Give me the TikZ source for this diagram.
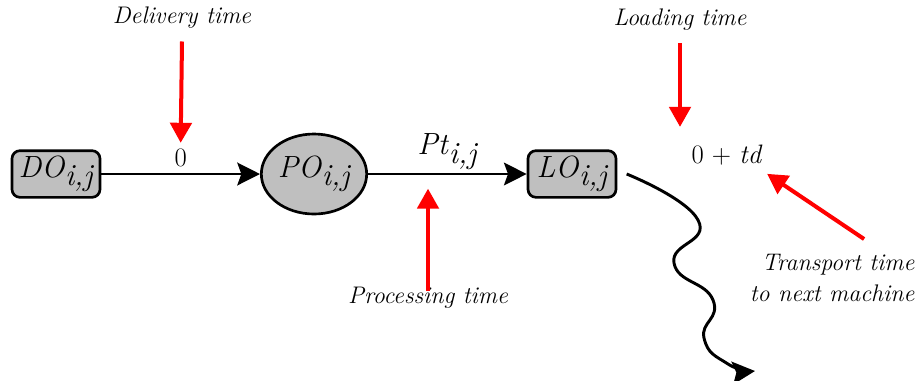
\documentclass[tikz,border=0pt]{standalone}
\usetikzlibrary{arrows.meta,shapes.geometric}

\newcommand{\opij}[1]{\textit{#1}$_{\textit{i,j}}$}

\begin{document}
\begin{tikzpicture}[x=0.75pt,y=-0.75pt,>={Stealth[length=17pt,width=17pt,inset=3pt]},
                    node distance=193.5pt,
                    box node/.style={rectangle,rounded corners=6pt,draw,line width=2pt,fill=black!25,
                                     minimum width=66pt,minimum height=35pt,inner sep=0pt,
                                     font=\fontsize{23}{28}\selectfont},
                    job node/.style={ellipse,draw,line width=2pt,fill=black!25,
                                     minimum width=79pt,minimum height=60pt,inner sep=0pt,
                                     font=\fontsize{23}{28}\selectfont},
                    note/.style={font=\fontsize{18}{23}\selectfont\itshape},
                    red arrow/.style={-{Triangle[length=15pt,width=16pt]},red,line width=3pt}]
  \useasboundingbox (0,0) rectangle (920,380);
  \node[box node] (DO) at (56,174) {\opij{DO}};
  \node[job node] (PO) [right of=DO] {\opij{PO}};
  \node[box node] (LO) [right of=PO] {\opij{LO}};
  \draw[->,line width=2.2pt] (DO) -- node[above=1pt,font=\fontsize{20}{24}\selectfont] (zero) {0} (PO);
  \draw[->,line width=2.2pt] (PO) -- node[above=-1pt,font=\fontsize{23}{28}\selectfont] (pt) {\opij{Pt}} (LO);
  \node[font=\fontsize{20}{24}\selectfont] (tdlbl) at (727,155) {0 + \textit{td}};
  % notes
  \node[note] (dlv) at (182,18) {Delivery time};
  \node[note] (proc) at (428,298) {Processing time};
  \node[note] (load) at (680,20) {Loading time};
  \node[note,align=right,anchor=east] (trans) at (919,278) {Transport time\\to next machine};
  \draw[red arrow] (dlv.south) ++(0,-6pt) -- (zero.north);
  \draw[red arrow] ([yshift=-6pt]proc.north) -- ([yshift=-10pt]proc.north |- pt.south);
  \draw[red arrow] ([yshift=-6pt]load.south) -- ([yshift=10pt]load.south |- tdlbl.north);
  \draw[red arrow] ([xshift=24pt,yshift=8pt]trans.north) -- ([yshift=-3pt]tdlbl.south east);
  % to the next machine
  \coordinate (nxt) at (755,371);
  \draw[->,line width=2.2pt] plot[smooth,tension=0.9] coordinates
    {([xshift=7pt]LO.east) (698,220) (674,263) (713,300) (704,338) (728,364) (nxt)};
\end{tikzpicture}
\end{document}
